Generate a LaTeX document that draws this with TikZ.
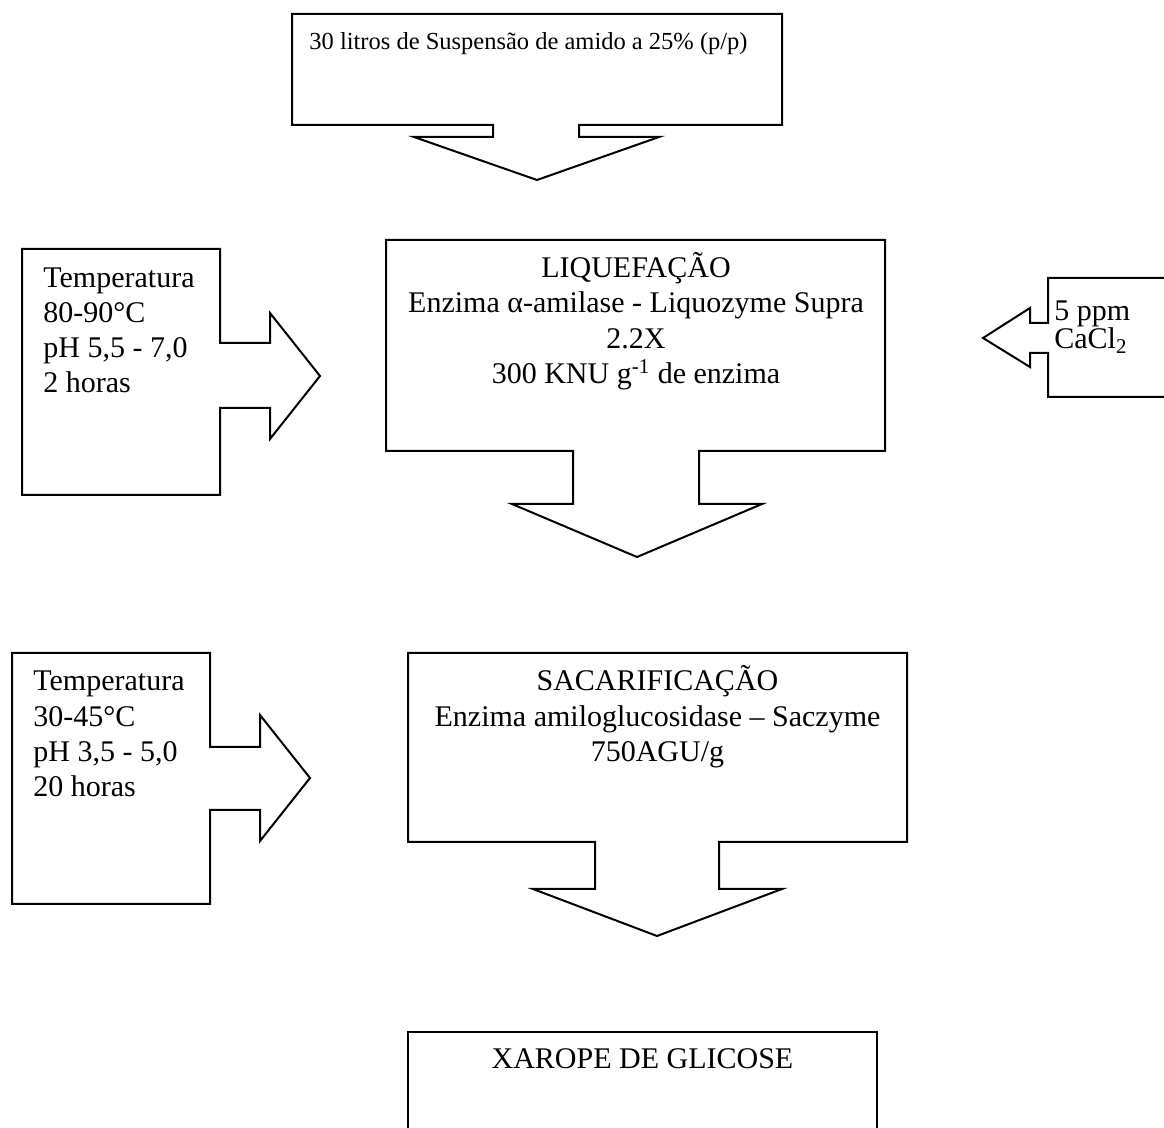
\documentclass[tikz,border=0pt]{standalone}
\usepackage{fontspec}
\setmainfont{Liberation Serif}
\begin{document}
\begin{tikzpicture}[x=0.5pt,y=-0.5pt,
  shp/.style={draw=black,line width=1pt,line join=miter},
  txt/.style={inner sep=0pt,font=\fontsize{15}{17}\selectfont},
  small/.style={font=\fontsize{12.25}{14}\selectfont},
  lt/.style={txt,anchor=base west},
  ct/.style={txt,anchor=base}]
\useasboundingbox (0,0) rectangle (1164,1128);
% top box with down arrow
\draw[shp] (292,14) -- (782,14) -- (782,125) -- (579,125) -- (579,137) -- (659,137) -- (537,180) -- (414,137) -- (493,137) -- (493,125) -- (292,125) -- cycle;
\node[lt,small] (s1) at (309,50) {30 litros de Suspensão de amido a 25\% (p/p)};
% left box 1
\draw[shp] (22,249) -- (220,249) -- (220,343) -- (270,343) -- (270,313) -- (320,376) -- (270,439) -- (270,408) -- (220,408) -- (220,495) -- (22,495) -- cycle;
\node[lt] (c1a) at (43,288) {Temperatura};
\node[lt] (c1b) at (43,323) {80-90°C};
\node[lt] (c1c) at (43,358) {pH 5,5 - 7,0};
\node[lt] (c1d) at (43,393) {2 horas};
% liquefacao
\draw[shp] (386,240) -- (885,240) -- (885,451) -- (699,451) -- (699,504) -- (762,504) -- (637,557) -- (512,504) -- (573,504) -- (573,451) -- (386,451) -- cycle;
\node[ct] (l1) at (636,278) {LIQUEFAÇÃO};
\node[ct] (l2) at (636,313) {Enzima α-amilase - Liquozyme Supra};
\node[ct] (l3) at (636,349) {2.2X};
\node[ct] (l4) at (636,384) {300 KNU g\textsuperscript{-1} de enzima};
% CaCl2 box
\draw[shp] (1175,278) -- (1048,278) -- (1048,323) -- (1030,323) -- (1030,308) -- (983,338) -- (1030,367) -- (1030,353) -- (1048,353) -- (1048,397) -- (1175,397);
\node[lt] (r1) at (1054,321) {5 ppm};
\node[lt] (r2) at (1054,349) {CaCl\textsubscript{2}};
% left box 2
\draw[shp] (12,653) -- (210,653) -- (210,747) -- (260,747) -- (260,715) -- (310,778) -- (260,841) -- (260,810) -- (210,810) -- (210,904) -- (12,904) -- cycle;
\node[lt] (c2a) at (33,691) {Temperatura};
\node[lt] (c2b) at (33,727) {30-45°C};
\node[lt] (c2c) at (33,762) {pH 3,5 - 5,0};
\node[lt] (c2d) at (33,797) {20 horas};
% sacarificacao
\draw[shp] (408,653) -- (907,653) -- (907,842) -- (719,842) -- (719,889) -- (782,889) -- (657,936) -- (533,889) -- (595,889) -- (595,842) -- (408,842) -- cycle;
\node[ct] (m1) at (657.5,691) {SACARIFICAÇÃO};
\node[ct] (m2) at (657.5,727) {Enzima amiloglucosidase – Saczyme};
\node[ct] (m3) at (657.5,762) {750AGU/g};
% xarope
\draw[shp] (408,1140) -- (408,1032) -- (877,1032) -- (877,1140);
\node[ct] (x1) at (642.5,1069) {XAROPE DE GLICOSE};
\end{tikzpicture}
\end{document}
